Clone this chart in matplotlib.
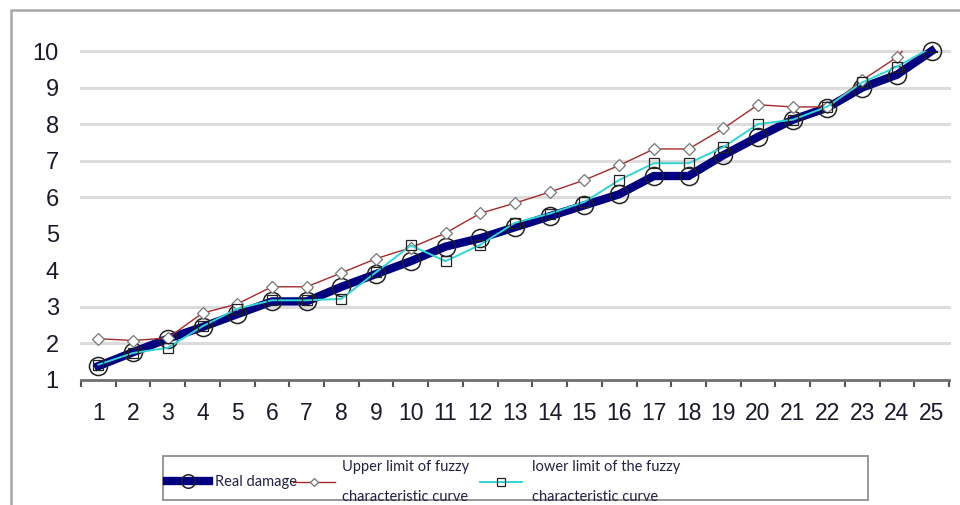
import matplotlib
matplotlib.use("Agg")
import matplotlib.pyplot as plt
from matplotlib.patches import Rectangle
import numpy as np

plt.rcParams['font.family'] = ['Liberation Sans', 'DejaVu Sans']

# data
samples = list(range(1, 26))
real_damage = [1.38, 1.76, 2.13, 2.45, 2.80, 3.15, 3.15, 3.55, 3.90, 4.25,
               4.65, 4.88, 5.18, 5.48, 5.78, 6.08, 6.58, 6.58, 7.15, 7.65,
               8.12, 8.45, 9.00, 9.35, 10.00]
upper_limit = [2.13, 2.08, 2.15, 2.83, 3.08, 3.55, 3.55, 3.93, 4.32, 4.62,
               5.02, 5.56, 5.84, 6.14, 6.47, 6.87, 7.32, 7.32, 7.88, 8.53,
               8.47, 8.47, 9.20, 9.83, 10.90]
lower_limit = [1.42, 1.74, 1.88, 2.47, 2.95, 3.18, 3.18, 3.22, 3.95, 4.68,
               4.25, 4.70, 5.30, 5.55, 5.87, 6.47, 6.93, 6.93, 7.37, 8.00,
               8.12, 8.48, 9.14, 9.57, 10.10]
y_ticks = list(range(1, 11))
grid_levels = [2, 3, 6, 7, 8, 9, 10]

lbl_real = "Real damage"
lbl_upper = "Upper limit of fuzzy\ncharacteristic curve"
lbl_lower = "lower limit of the fuzzy\ncharacteristic curve"

fig = plt.figure(figsize=(9.6, 5.05), dpi=100)
ax = fig.add_axes([81 / 960, 125 / 505, 868 / 960, 329 / 505])

for g in grid_levels:
    ax.axhline(g, color='#dcdcdc', lw=2.2, zorder=0, clip_on=False)

x = np.array(samples)
l1, = ax.plot(x, real_damage, color='#000080', lw=6, marker='o', ms=13,
              mfc='none', mec='#222222', mew=1.1, clip_on=False, zorder=3)
l2, = ax.plot(x, upper_limit, color='#a52a2a', lw=1.0, marker='D', ms=6,
              mfc='white', mec='#777777', mew=0.9, zorder=4)
l3, = ax.plot(x, lower_limit, color='#30d5d5', lw=1.4, marker='s', ms=7.5,
              mfc='none', mec='#222222', mew=0.9, zorder=5)

ax.set_xlim(0.5, 25.5)
ax.set_ylim(1, 10)
ax.set_xticks(samples)
ax.set_xticks(np.arange(0.5, 26, 1), minor=True)
ax.tick_params(axis='x', which='major', length=0, pad=16, labelsize=16.5,
               labelcolor='#1a1a2a')
ax.tick_params(axis='x', which='minor', length=5, width=1.5, color='#555555',
               direction='out')
ax.set_yticks(y_ticks)
ax.tick_params(axis='y', length=0, pad=16, labelsize=17, labelcolor='#1a1a2a')

for s in ['top', 'right', 'left']:
    ax.spines[s].set_visible(False)
ax.spines['bottom'].set_color('#707070')
ax.spines['bottom'].set_linewidth(2)

# outer chart frame (cut off at right and bottom)
fig.add_artist(Rectangle((11 / 960, -0.2), 1.2, 0.2 + 495 / 505,
                         transform=fig.transFigure, fill=False,
                         edgecolor='#a8a8a8', lw=1.8))

# legend box
fig.add_artist(Rectangle((163 / 960, 5 / 505), 705 / 960, 44 / 505,
                         transform=fig.transFigure, fill=False,
                         edgecolor='#909090', lw=1.3))

leg_font = {'family': ['Lato', 'Liberation Sans'], 'size': 10.5}
entries = [(l1, lbl_real, 167, 2.9, 0.4),
           (l2, lbl_upper, 293, 2.9, 0.45),
           (l3, lbl_lower, 480, 2.9, 0.7)]
for h, lab, xpix, hl, tp in entries:
    lg = fig.legend(handles=[h], labels=[lab], loc='center left',
                    bbox_to_anchor=(xpix / 960, 23 / 505), frameon=False,
                    prop=leg_font, handlelength=hl, handletextpad=tp,
                    borderpad=0, borderaxespad=0, markerscale=0.75)
    for t in lg.get_texts():
        t.set_linespacing(2.4)
        t.set_color('#222244')

fig.savefig("out.png", dpi=100)
